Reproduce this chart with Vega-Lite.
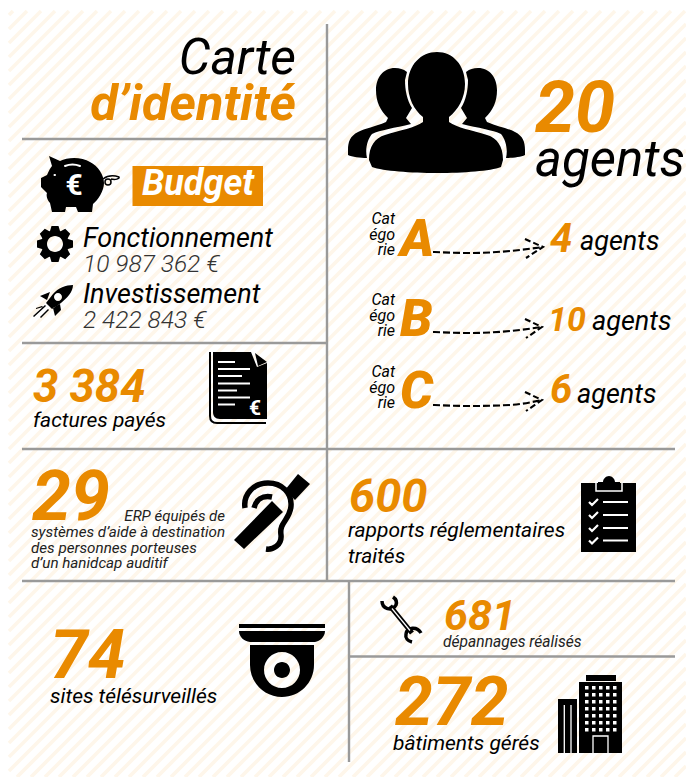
{"$schema":"https://vega.github.io/schema/vega-lite/v6.json","width":686,"height":777,"padding":0,"autosize":{"type":"none"},"background":"#ffffff","view":{"stroke":null},
"encoding":{"x":{"field":"x","type":"quantitative","scale":{"domain":[0,686],"nice":false,"zero":false},"axis":null},"y":{"field":"y","type":"quantitative","scale":{"domain":[777,0],"nice":false,"zero":false},"axis":null}},
"layer":[
{"data":{"values":[{"x":0,"y":0,"part":"hatch"}]},"mark":{"type":"point","size":4,"opacity":1,"filled":false,"stroke":"#fef6ea","strokeWidth":3.6,"shape":"M9 15L13 11M9 29L27 11M9 43L41 11M9 57L55 11M9 71L69 11M9 85L83 11M9 99L97 11M9 113L111 11M9 127L125 11M9 141L139 11M9 155L153 11M9 169L167 11M9 183L181 11M9 197L195 11M9 211L209 11M9 225L223 11M9 239L237 11M9 253L251 11M9 267L265 11M9 281L279 11M9 295L293 11M9 309L307 11M9 323L321 11M9 337L335 11M9 351L349 11M9 365L363 11M9 379L377 11M9 393L391 11M9 407L405 11M9 421L419 11M9 435L433 11M9 449L447 11M9 463L461 11M9 477L475 11M9 491L489 11M9 505L503 11M9 519L517 11M9 533L531 11M9 547L545 11M9 561L559 11M9 575L573 11M9 589L587 11M9 603L601 11M9 617L615 11M9 631L629 11M9 645L643 11M9 659L657 11M9 673L671 11M9 687L685 11M9 701L686 24M9 715L686 38M9 729L686 52M9 743L686 66M9 757L686 80M9 771L686 94M17 777L686 108M31 777L686 122M45 777L686 136M59 777L686 150M73 777L686 164M87 777L686 178M101 777L686 192M115 777L686 206M129 777L686 220M143 777L686 234M157 777L686 248M171 777L686 262M185 777L686 276M199 777L686 290M213 777L686 304M227 777L686 318M241 777L686 332M255 777L686 346M269 777L686 360M283 777L686 374M297 777L686 388M311 777L686 402M325 777L686 416M339 777L686 430M353 777L686 444M367 777L686 458M381 777L686 472M395 777L686 486M409 777L686 500M423 777L686 514M437 777L686 528M451 777L686 542M465 777L686 556M479 777L686 570M493 777L686 584M507 777L686 598M521 777L686 612M535 777L686 626M549 777L686 640M563 777L686 654M577 777L686 668M591 777L686 682M605 777L686 696M619 777L686 710M633 777L686 724M647 777L686 738M661 777L686 752M675 777L686 766"}},
{"data":{"values":[{"x":327,"y":24,"x2":327,"y2":581},{"x":22,"y":139,"x2":327,"y2":139},{"x":22,"y":343,"x2":327,"y2":343},{"x":22,"y":449,"x2":675,"y2":449},{"x":22,"y":581,"x2":675,"y2":581},{"x":349,"y":581,"x2":349,"y2":762},{"x":349,"y":656.5,"x2":675,"y2":656.5}]},"mark":{"type":"rule","stroke":"#9a9a9a","strokeWidth":2.4},"encoding":{"x2":{"field":"x2"},"y2":{"field":"y2"}}},
{"data":{"values":[{"x":132.5,"y":166,"x2":263,"y2":206}]},"mark":{"type":"rect","fill":"#e98a00"},"encoding":{"x2":{"field":"x2"},"y2":{"field":"y2"}}},
{"data":{"values":[{"icon":"tirelire","x":80,"y":185}]},"mark":{"type":"point","size":4,"opacity":1,"filled":true,"fill":"#000","strokeWidth":0,"shape":"M-31 -29 L-20 -24 C-12 -28 2 -28 10 -23 C18 -19 24 -10 24 -2 C24 6 18 15 13 19 L12 27 L-2 27 L-4 22 L-14 22 L-15 27 L-28 27 L-30 18 C-33 15 -34 10 -33 8 L-39 2 L-39 -7 L-33 -10 C-31 -15 -29 -18 -28 -19 Z"}},
{"data":{"values":[{"icon":"tirelire yeux","x":80,"y":185}]},"mark":{"type":"point","size":4,"opacity":1,"filled":false,"stroke":"#fff","strokeWidth":2,"strokeCap":"round","shape":"M-15 -19 C-10 -21 -5 -21 0 -19 M-25.5 -10 L-25 -10"}},
{"data":{"values":[{"icon":"queue","x":80,"y":185}]},"mark":{"type":"point","size":4,"opacity":1,"filled":false,"stroke":"#000","strokeWidth":1.5,"shape":"M23 -6 C27 -9 33 -10 39 -8 C40 -6 35 -5 31 -6 M25 -3 a3 3 0 1 0 6 0 a3 3 0 1 0 -6 0"}},
{"data":{"values":[{"icon":"engrenage","x":55,"y":244}]},"mark":{"type":"point","size":4,"opacity":1,"filled":true,"fill":"#000","strokeWidth":0,"shape":"M13 -5 L18 -3.5 L18 3.5 L13 5 L12.7 5.7 L15.2 10.2 L10.2 15.2 L5.7 12.7 L5 13 L3.5 18 L-3.5 18 L-5 13 L-5.7 12.7 L-10.2 15.2 L-15.2 10.2 L-12.7 5.7 L-13 5 L-18 3.5 L-18 -3.5 L-13 -5 L-12.7 -5.7 L-15.2 -10.2 L-10.2 -15.2 L-5.7 -12.7 L-5 -13 L-3.5 -18 L3.5 -18 L5 -13 L5.7 -12.7 L10.2 -15.2 L15.2 -10.2 L12.7 -5.7 Z M8 0 A8 8 0 1 0 -8 0 A8 8 0 1 0 8 0 Z"}},
{"data":{"values":[{"icon":"fusee","x":55,"y":300}]},"mark":{"type":"point","size":4,"opacity":1,"filled":true,"fill":"#000","strokeWidth":0,"shape":"M18 -15 C11 -15 3 -12 -2 -6 L-9 3 L-3 9 L6 3 C12 -2 18 -8 18 -15 Z M-1 -3 a4 4 0 1 1 8 0 a4 4 0 1 1 -8 0 Z M-5 -8 L-15 -4 L-8 0 Z M5 4 L6 10 L0 16 L-2 8 Z M-10 5 L-22 16 L-21 17 L-9 6 Z M-13 6 L-19 8 L-19 9 L-12 7 Z M-7 9 L-15 17 L-14 18 L-6 10 Z"}},
{"data":{"values":[{"icon":"facture","x":238,"y":388}]},"mark":{"type":"point","size":4,"opacity":1,"filled":true,"fill":"#000","strokeWidth":0,"shape":"M-25 -36 L13 -36 L19 -21 L29 -25 L29 31 L-18 31 C-23 31 -25 28 -25 24 Z M17 -35 L29 -26 L20 -22 Z"}},
{"data":{"values":[{"icon":"facture bord","x":238,"y":388}]},"mark":{"type":"point","size":4,"opacity":1,"filled":false,"stroke":"#000","strokeWidth":2,"shape":"M-28 -36 L-28 28 C-28 33 -25 35 -21 35 L28 35"}},
{"data":{"values":[{"icon":"facture lignes","x":238,"y":388}]},"mark":{"type":"point","size":4,"opacity":1,"filled":false,"stroke":"#fff","strokeWidth":2,"shape":"M-20 -26 L-3 -26 M-20 -19 L12 -19 M-20 -12 L4 -12 M-20 -4.5 L12 -4.5 M-20 2.5 L-1 2.5 M-20 9.5 L12 9.5 M-20 16.5 L-3 16.5"}},
{"data":{"values":[{"icon":"agents","x":436,"y":112}]},"mark":{"type":"point","size":4,"opacity":1,"filled":true,"fill":"#000","strokeWidth":0,"shape":"M1 -60 C-15 -60 -28 -47 -28 -28 C-28 -14 -22 -2 -13 5 L-13 10 C-21 16 -36 18 -51 23 C-61 26 -67 34 -67 48 L-64 55 C-41 63 44 63 65 55 L67 48 C67 34 61 26 51 23 C36 18 21 16 13 10 L13 5 C22 -2 29 -14 29 -28 C29 -47 17 -60 1 -60 Z M-41 -44 C-53 -44 -60 -34 -60 -22 C-60 -10 -56 -2 -48 6 L-50 10 C-61 15 -71 16 -78 20 C-86 24 -88 30 -88 38 L-88 43 C-84 45 -76 46 -69 46 C-71 38 -69 28 -64 22 C-56 18 -41 16 -25 12 L-30 6 L-24 -4 C-29 -12 -31 -22 -31 -32 L-29 -40 C-33 -43 -36 -44 -41 -44 Z M42 -44 C54 -44 61 -34 61 -22 C61 -10 57 -2 49 6 L51 10 C62 15 72 16 79 20 C87 24 89 30 89 38 L89 43 C85 45 77 46 70 46 C72 38 70 28 65 22 C57 18 42 16 26 12 L31 6 L25 -4 C30 -12 32 -22 32 -32 L30 -40 C34 -43 37 -44 42 -44 Z"}},
{"data":{"values":[{"icon":"oreille barre","x":272,"y":512}]},"mark":{"type":"point","size":4,"opacity":1,"filled":true,"fill":"#000","strokeWidth":0,"shape":"M-38 28 L-28 37 L11 0 L0 -11 Z M26 -38 L38 -28 L23 -12 L13 -22 Z"}},
{"data":{"values":[{"icon":"oreille","x":272,"y":512}]},"mark":{"type":"point","size":4,"opacity":1,"filled":false,"stroke":"#000","strokeWidth":5.5,"shape":"M-27 -4 C-29 -17 -19 -29 -4 -29 C10 -29 20 -19 19 -6 C18 8 7 10 9 23 C10 33 1 38 -6 37 M-18 -4 C-16 -12 -10 -17 0 -15"}},
{"data":{"values":[{"icon":"rapport","x":608,"y":514}]},"mark":{"type":"point","size":4,"opacity":1,"filled":true,"fill":"#000","strokeWidth":0,"shape":"M-27 -31 L28 -31 L28 38 L-27 38 Z M-5 -32 C-5 -35 -2 -38 1 -38 C4 -38 7 -35 7 -32 L12 -32 L12 -25 L-10 -25 L-10 -32 Z"}},
{"data":{"values":[{"icon":"rapport pince","x":608,"y":514}]},"mark":{"type":"point","size":4,"opacity":1,"filled":false,"stroke":"#fff","strokeWidth":1.5,"shape":"M-12 -31 L-12 -23 L14 -23 L14 -31"}},
{"data":{"values":[{"icon":"rapport lignes","x":608,"y":514}]},"mark":{"type":"point","size":4,"opacity":1,"filled":false,"stroke":"#fff","strokeWidth":2.2,"shape":"M-5 -12 L20 -12 M-5 1 L20 1 M-5 14 L20 14 M-5 26.5 L20 26.5 M-19 -12 L-16 -9 L-10 -15 M-19 1 L-16 4 L-10 -2 M-19 14 L-16 17 L-10 11 M-19 26.5 L-16 29.5 L-10 23.5"}},
{"data":{"values":[{"icon":"camera","x":282,"y":660}]},"mark":{"type":"point","size":4,"opacity":1,"filled":true,"fill":"#000","strokeWidth":0,"shape":"M-43 -36 L43 -36 L43 -32 L-43 -32 Z M-43 -29 L43 -29 C43 -23 38 -19 33 -18 L-32 -18 C-38 -19 -43 -23 -43 -29 Z M-32 -15 L32 -15 L32 5 A32 32 0 0 1 -32 5 Z M18 10 A18 18 0 1 0 -18 10 A18 18 0 1 0 18 10 Z M-8 10 A8 8 0 1 1 8 10 A8 8 0 1 1 -8 10 Z"}},
{"data":{"values":[{"icon":"cle manche","x":401,"y":620}]},"mark":{"type":"point","size":4,"opacity":1,"filled":false,"stroke":"#000","strokeWidth":5,"shape":"M-11 -14 L11 13"}},
{"data":{"values":[{"icon":"cle tetes","x":401,"y":620}]},"mark":{"type":"point","size":4,"opacity":1,"filled":false,"stroke":"#000","strokeWidth":3.5,"shape":"M-19 -19 C-19 -11 -9 -8 -5 -15 C-4 -18 -5 -21 -8 -23 M20 13 C16 6 6 7 5 14 C4 18 7 21 11 22"}},
{"data":{"values":[{"icon":"cle trait","x":401,"y":620}]},"mark":{"type":"point","size":4,"opacity":1,"filled":false,"stroke":"#fff","strokeWidth":1.2,"shape":"M-9 -11.5 L9 10.5"}},
{"data":{"values":[{"icon":"immeubles","x":590,"y":714}]},"mark":{"type":"point","size":4,"opacity":1,"filled":true,"fill":"#000","strokeWidth":0,"shape":"M-11 -32 L32 -32 L32 39 L-11 39 Z M-4 -39 L26 -39 L26 -33 L-4 -33 Z M-32 -15 L-13 -15 L-13 39 L-32 39 Z"}},
{"data":{"values":[{"icon":"fenetres","x":590,"y":714}]},"mark":{"type":"point","size":4,"opacity":1,"filled":false,"stroke":"#fff","strokeWidth":3.5,"strokeDash":[3.5,3.5],"shape":"M-5 -26.2 L27 -26.2 M-5 -19.2 L27 -19.2 M-5 -12.2 L27 -12.2 M-5 -5.2 L27 -5.2 M-5 1.8 L27 1.8 M-5 8.8 L27 8.8 M-5 15.8 L27 15.8"}},
{"data":{"values":[{"icon":"porte","x":590,"y":714}]},"mark":{"type":"point","size":4,"opacity":1,"filled":false,"stroke":"#fff","strokeWidth":1.3,"shape":"M3 39 L3 22 L18 22 L18 39 M-25.7 -9 L-25.7 39 M-19 -9 L-19 39"}},
{"data":{"values":[{"label":"€","x":74,"y":195}]},"mark":{"type":"text","font":"Roboto","fontWeight":700,"fontSize":30,"align":"center","baseline":"alphabetic","fill":"#fff"},"encoding":{"text":{"field":"label"}}},
{"data":{"values":[{"label":"€","x":255,"y":415}]},"mark":{"type":"text","font":"Roboto","fontWeight":700,"fontSize":21,"align":"center","baseline":"alphabetic","fill":"#fff"},"encoding":{"text":{"field":"label"}}},
{"data":{"values":[{"label":"Carte","x":296,"y":74}]},"mark":{"type":"text","font":"Roboto","fontStyle":"italic","fontWeight":400,"fontSize":50,"align":"right","baseline":"alphabetic","fill":"#000"},"encoding":{"text":{"field":"label"}}},
{"data":{"values":[{"label":"d’identité","x":296,"y":120}]},"mark":{"type":"text","font":"Roboto","fontStyle":"italic","fontWeight":700,"fontSize":50.5,"align":"right","baseline":"alphabetic","fill":"#e98a00"},"encoding":{"text":{"field":"label"}}},
{"data":{"values":[{"label":"Budget","x":142,"y":195}]},"mark":{"type":"text","font":"Roboto","fontStyle":"italic","fontWeight":700,"fontSize":36,"align":"left","baseline":"alphabetic","fill":"#fff"},"encoding":{"text":{"field":"label"}}},
{"data":{"values":[{"label":"Fonctionnement","x":83,"y":247},{"label":"Investissement","x":83,"y":303}]},"mark":{"type":"text","font":"Roboto","fontStyle":"italic","fontWeight":400,"fontSize":27,"align":"left","baseline":"alphabetic","fill":"#000"},"encoding":{"text":{"field":"label"}}},
{"data":{"values":[{"label":"10 987 362 €","x":83,"y":272},{"label":"2 422 843 €","x":83,"y":328}]},"mark":{"type":"text","font":"Roboto","fontStyle":"italic","fontWeight":300,"fontSize":24.5,"align":"left","baseline":"alphabetic","fill":"#333"},"encoding":{"text":{"field":"label"}}},
{"data":{"values":[{"label":"3 384","x":33,"y":402}]},"mark":{"type":"text","font":"Roboto","fontStyle":"italic","fontWeight":700,"fontSize":45.5,"align":"left","baseline":"alphabetic","fill":"#e98a00"},"encoding":{"text":{"field":"label"}}},
{"data":{"values":[{"label":"600","x":349,"y":512}]},"mark":{"type":"text","font":"Roboto","fontStyle":"italic","fontWeight":700,"fontSize":47,"align":"left","baseline":"alphabetic","fill":"#e98a00"},"encoding":{"text":{"field":"label"}}},
{"data":{"values":[{"label":"681","x":444,"y":630}]},"mark":{"type":"text","font":"Roboto","fontStyle":"italic","fontWeight":700,"fontSize":43,"align":"left","baseline":"alphabetic","fill":"#e98a00"},"encoding":{"text":{"field":"label"}}},
{"data":{"values":[{"label":"factures payés","x":33,"y":427},{"label":"sites télésurveillés","x":50,"y":703}]},"mark":{"type":"text","font":"Roboto","fontStyle":"italic","fontWeight":400,"fontSize":21,"align":"left","baseline":"alphabetic","fill":"#000"},"encoding":{"text":{"field":"label"}}},
{"data":{"values":[{"label":"20","x":535,"y":132}]},"mark":{"type":"text","font":"Roboto","fontStyle":"italic","fontWeight":700,"fontSize":72,"align":"left","baseline":"alphabetic","fill":"#e98a00"},"encoding":{"text":{"field":"label"}}},
{"data":{"values":[{"label":"agents","x":535,"y":176}]},"mark":{"type":"text","font":"Roboto","fontStyle":"italic","fontWeight":400,"fontSize":51,"align":"left","baseline":"alphabetic","fill":"#000"},"encoding":{"text":{"field":"label"}}},
{"data":{"values":[{"label":"Cat","x":395,"y":224},{"label":"égo","x":395,"y":240},{"label":"rie","x":395,"y":255},{"label":"Cat","x":395,"y":305},{"label":"égo","x":395,"y":321},{"label":"rie","x":395,"y":336},{"label":"Cat","x":395,"y":377},{"label":"égo","x":395,"y":393},{"label":"rie","x":395,"y":408}]},"mark":{"type":"text","font":"Roboto","fontStyle":"italic","fontWeight":400,"fontSize":16,"align":"right","baseline":"alphabetic","fill":"#000"},"encoding":{"text":{"field":"label"}}},
{"data":{"values":[{"label":"A","x":400,"y":256},{"label":"B","x":400,"y":336},{"label":"C","x":400,"y":408}]},"mark":{"type":"text","font":"Roboto","fontStyle":"italic","fontWeight":900,"fontSize":52,"align":"left","baseline":"alphabetic","fill":"#e98a00"},"encoding":{"text":{"field":"label"}}},
{"data":{"values":[{"label":"4","x":550,"y":252},{"label":"6","x":550,"y":403}]},"mark":{"type":"text","font":"Roboto","fontStyle":"italic","fontWeight":700,"fontSize":40,"align":"left","baseline":"alphabetic","fill":"#e98a00"},"encoding":{"text":{"field":"label"}}},
{"data":{"values":[{"label":"10","x":548,"y":331}]},"mark":{"type":"text","font":"Roboto","fontStyle":"italic","fontWeight":700,"fontSize":34,"align":"left","baseline":"alphabetic","fill":"#e98a00"},"encoding":{"text":{"field":"label"}}},
{"data":{"values":[{"label":"agents","x":580,"y":250},{"label":"agents","x":592,"y":330},{"label":"agents","x":577,"y":403}]},"mark":{"type":"text","font":"Roboto","fontStyle":"italic","fontWeight":400,"fontSize":27,"align":"left","baseline":"alphabetic","fill":"#000"},"encoding":{"text":{"field":"label"}}},
{"data":{"values":[{"label":"29","x":32,"y":520}]},"mark":{"type":"text","font":"Roboto","fontStyle":"italic","fontWeight":700,"fontSize":70,"align":"left","baseline":"alphabetic","fill":"#e98a00"},"encoding":{"text":{"field":"label"}}},
{"data":{"values":[{"label":"74","x":50,"y":678},{"label":"272","x":395,"y":725}]},"mark":{"type":"text","font":"Roboto","fontStyle":"italic","fontWeight":700,"fontSize":68,"align":"left","baseline":"alphabetic","fill":"#e98a00"},"encoding":{"text":{"field":"label"}}},
{"data":{"values":[{"label":"ERP équipés de","x":225,"y":521}]},"mark":{"type":"text","font":"Roboto","fontStyle":"italic","fontWeight":400,"fontSize":15,"align":"right","baseline":"alphabetic","fill":"#222"},"encoding":{"text":{"field":"label"}}},
{"data":{"values":[{"label":"systèmes d’aide à destination","x":31,"y":536.5},{"label":"des personnes porteuses","x":31,"y":552.5},{"label":"d’un hanidcap auditif","x":31,"y":568}]},"mark":{"type":"text","font":"Roboto","fontStyle":"italic","fontWeight":400,"fontSize":15.2,"align":"left","baseline":"alphabetic","fill":"#222"},"encoding":{"text":{"field":"label"}}},
{"data":{"values":[{"label":"dépannages réalisés","x":443,"y":646.5}]},"mark":{"type":"text","font":"Roboto","fontStyle":"italic","fontWeight":400,"fontSize":15.6,"align":"left","baseline":"alphabetic","fill":"#222"},"encoding":{"text":{"field":"label"}}},
{"data":{"values":[{"label":"rapports réglementaires","x":348,"y":537},{"label":"traités","x":348,"y":563},{"label":"bâtiments gérés","x":393,"y":750}]},"mark":{"type":"text","font":"Roboto","fontStyle":"italic","fontWeight":400,"fontSize":21,"align":"left","baseline":"alphabetic","fill":"#000"},"encoding":{"text":{"field":"label"}}},
{"data":{"values":[{"arrow":"A","step":1,"x":433,"y":252},{"arrow":"A","step":2,"x":470,"y":253},{"arrow":"A","step":3,"x":510,"y":251},{"arrow":"A","step":4,"x":543,"y":247},{"arrow":"B","step":1,"x":433,"y":332},{"arrow":"B","step":2,"x":470,"y":333},{"arrow":"B","step":3,"x":510,"y":331},{"arrow":"B","step":4,"x":542,"y":327},{"arrow":"C","step":1,"x":433,"y":405},{"arrow":"C","step":2,"x":470,"y":406},{"arrow":"C","step":3,"x":510,"y":405},{"arrow":"C","step":4,"x":542,"y":400}]},"mark":{"type":"line","interpolate":"monotone","stroke":"#000","strokeWidth":2.1,"strokeDash":[7,3]},"encoding":{"detail":{"field":"arrow"},"order":{"field":"step"}}},
{"data":{"values":[{"arrow":"A","step":1,"x":525,"y":239},{"arrow":"A","step":2,"x":543,"y":247},{"arrow":"A","step":3,"x":526,"y":258},{"arrow":"B","step":1,"x":525,"y":319},{"arrow":"B","step":2,"x":542,"y":327},{"arrow":"B","step":3,"x":526,"y":338},{"arrow":"C","step":1,"x":525,"y":392},{"arrow":"C","step":2,"x":542,"y":400},{"arrow":"C","step":3,"x":526,"y":411}]},"mark":{"type":"line","stroke":"#000","strokeWidth":2.1,"strokeDash":[6,3]},"encoding":{"detail":{"field":"arrow"},"order":{"field":"step"}}}
]}
